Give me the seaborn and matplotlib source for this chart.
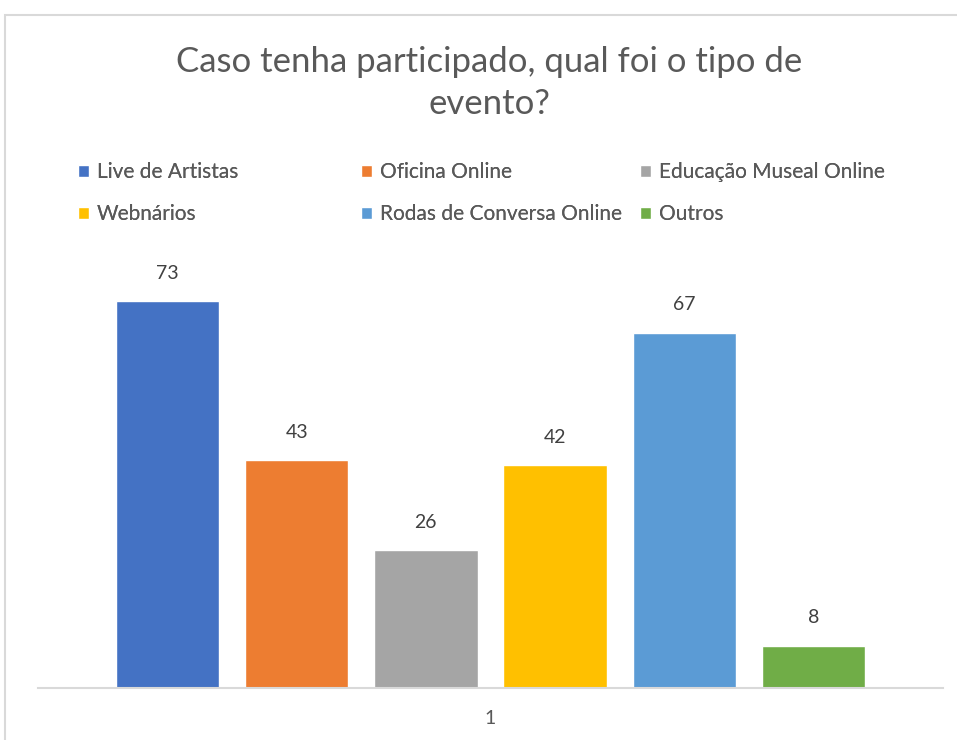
import pandas as pd
import matplotlib.pyplot as plt
import seaborn as sns
from matplotlib.patches import Rectangle

sns.set_theme(style="white")
plt.rcParams['font.family'] = ['Lato', 'DejaVu Sans']

grupo = ['1'] * 6
tipos = ['Live de Artistas', 'Oficina Online', 'Educação Museal Online',
         'Webnários', 'Rodas de Conversa Online', 'Outros']
respostas = [73, 43, 26, 42, 67, 8]
cores = ['#4472C4', '#ED7D31', '#A5A5A5', '#FFC000', '#5B9BD5', '#70AD47']

df = pd.DataFrame({'grupo': grupo, 'tipo': tipos, 'respostas': respostas})

fig = plt.figure(figsize=(9.57, 7.4), dpi=100)
ax = fig.add_axes([38 / 957, 1 - 688 / 740, 905 / 957, 424 / 740])

sns.barplot(data=df, x='grupo', y='respostas', hue='tipo', hue_order=tipos,
            palette=cores, width=0.857, gap=0.2, saturation=1, ax=ax)

for c in ax.containers:
    ax.bar_label(c, padding=14, fontsize=14, color='#404040')

ax.set_xlim(-0.5, 0.5)
ax.set_ylim(0, 80)
ax.set_yticks([])
ax.set_xlabel('')
ax.set_ylabel('')
ax.tick_params(axis='x', length=0, labelsize=14, labelcolor='#595959', pad=16)
for s in ['top', 'left', 'right']:
    ax.spines[s].set_visible(False)
ax.spines['bottom'].set_color('#d9d9d9')
ax.spines['bottom'].set_linewidth(1.5)

handles, labels = ax.get_legend_handles_labels()
ax.get_legend().remove()

# legenda em tres colunas
colunas_x = [68 / 957, 351 / 957, 630 / 957]
for i, x0 in enumerate(colunas_x):
    leg = fig.legend([handles[i], handles[i + 3]], [labels[i], labels[i + 3]],
                     loc='upper left', bbox_to_anchor=(x0, 1 - 152 / 740),
                     frameon=False, fontsize=15, labelcolor='#595959',
                     handlelength=0.5, handleheight=0.5, handletextpad=0.4,
                     labelspacing=1.05, borderpad=0)
    fig.add_artist(leg)

fig.text(0.511, 1 - 83 / 740, 'Caso tenha participado, qual foi o tipo de\nevento?',
         ha='center', va='center', fontsize=25, color='#595959', linespacing=1.38)

fig.add_artist(Rectangle((5 / 957, -0.01), 1.0, 1 - 15 / 740 + 0.01,
                         transform=fig.transFigure, fill=False,
                         edgecolor='#d9d9d9', linewidth=1.5))

fig.savefig('out.png', dpi=100)
